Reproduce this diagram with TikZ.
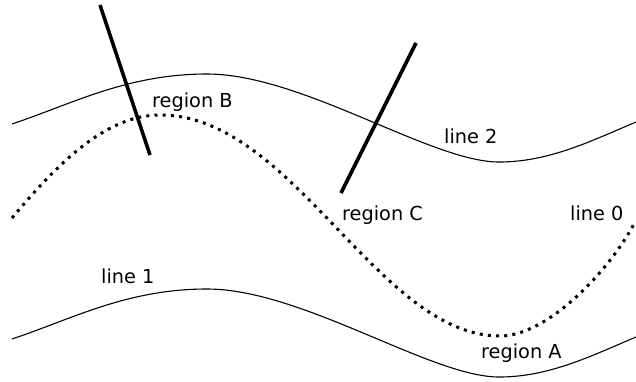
\documentclass[tikz,border=0pt]{standalone}
\usepackage{fontspec}
\setmainfont{DejaVu Sans}
\begin{document}
\begin{tikzpicture}[x=1pt,y=-1pt,
  thinline/.style={line width=1.1pt},
  dotline/.style={line width=3pt,dash pattern=on 3pt off 5.2pt},
  thickline/.style={line width=3.6pt},
  lbl/.style={anchor=base west,inner sep=0pt,font=\fontsize{19.3}{23}\selectfont}]
\path[use as bounding box] (0,0) rectangle (636,381);
% line 2 and line 1 (same wave, shifted down)
\foreach \s in {0,215}{
  \draw[thinline,shift={(0,\s)}] (12,124) .. controls (72,104) and (127,74) .. (207,74)
    .. controls (302,74) and (431,162) .. (499,162)
    .. controls (549,162) and (591,141) .. (636,122);
}
% line 0
\draw[dotline] (12,218) .. controls (57,164.5) and (105,115) .. (160,115)
  .. controls (293,115) and (378,336) .. (500,336)
  .. controls (548,336) and (610,270) .. (635,222);
% thick lines
\coordinate (b1) at (100,5);
\coordinate (b2) at (150,155);
\coordinate (c1) at (416,43);
\coordinate (c2) at (341,193);
\draw[thickline] (b1) -- (b2);
\draw[thickline] (c1) -- (c2);
% labels
\node[lbl] (rB) at (152,107) {region B};
\node[lbl] (l2) at (444,143) {line 2};
\node[lbl] (rC) at (342,220) {region C};
\node[lbl] (l0) at (570,220) {line 0};
\node[lbl] (l1) at (101,283) {line 1};
\node[lbl] (rA) at (481,358) {region A};
\end{tikzpicture}
\end{document}
